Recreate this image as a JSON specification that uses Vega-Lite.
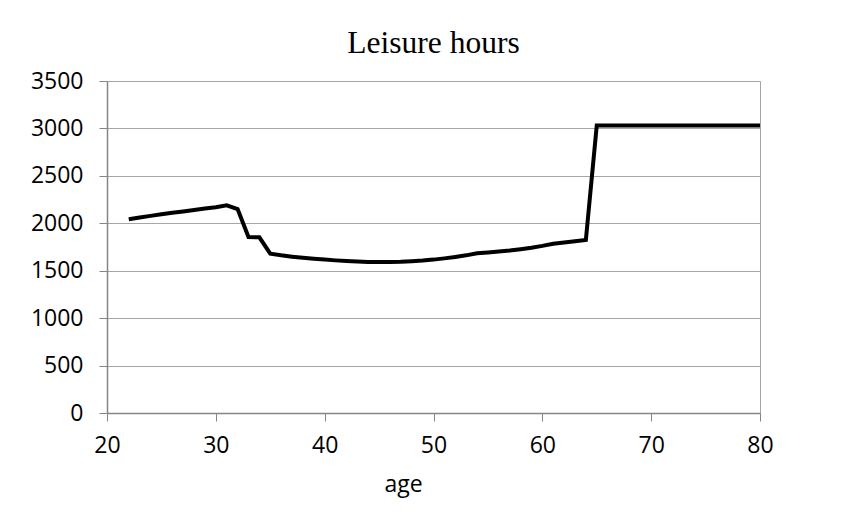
{
  "$schema": "https://vega.github.io/schema/vega-lite/v6.json",
  "autosize": {"type": "none"},
  "width": 653,
  "height": 332,
  "padding": {"left": 107, "top": 81, "right": 88, "bottom": 114},
  "background": "white",
  "title": {
    "text": "Leisure hours",
    "font": "Liberation Serif",
    "fontSize": 31.5,
    "fontWeight": "normal",
    "color": "black",
    "anchor": "middle",
    "frame": "group",
    "baseline": "alphabetic",
    "offset": -14
  },
  "config": {
    "view": {"stroke": "#a6a6a6", "strokeWidth": 1},
    "axis": {
      "labelFont": "Open Sans",
      "labelFontSize": 23,
      "labelColor": "black",
      "titleFont": "Open Sans",
      "titleFontSize": 23,
      "titleFontWeight": "normal",
      "titleColor": "black",
      "domainColor": "#868686",
      "domainWidth": 1.5,
      "tickColor": "#868686",
      "tickWidth": 1,
      "tickSize": 8,
      "gridColor": "#a6a6a6",
      "gridWidth": 1
    }
  },
  "data": {
    "values": [
      {"age": 22, "hours": 2042}, {"age": 23, "hours": 2060}, {"age": 24, "hours": 2078},
      {"age": 25, "hours": 2095}, {"age": 26, "hours": 2110}, {"age": 27, "hours": 2125},
      {"age": 28, "hours": 2140}, {"age": 29, "hours": 2155}, {"age": 30, "hours": 2170},
      {"age": 31, "hours": 2190}, {"age": 32, "hours": 2150}, {"age": 33, "hours": 1855},
      {"age": 34, "hours": 1852}, {"age": 35, "hours": 1680}, {"age": 36, "hours": 1662},
      {"age": 37, "hours": 1648}, {"age": 38, "hours": 1636}, {"age": 39, "hours": 1626},
      {"age": 40, "hours": 1617}, {"age": 41, "hours": 1609}, {"age": 42, "hours": 1602},
      {"age": 43, "hours": 1597}, {"age": 44, "hours": 1593}, {"age": 45, "hours": 1591},
      {"age": 46, "hours": 1591}, {"age": 47, "hours": 1594}, {"age": 48, "hours": 1600},
      {"age": 49, "hours": 1607}, {"age": 50, "hours": 1617}, {"age": 51, "hours": 1630},
      {"age": 52, "hours": 1645}, {"age": 53, "hours": 1662}, {"age": 54, "hours": 1685},
      {"age": 55, "hours": 1693}, {"age": 56, "hours": 1702}, {"age": 57, "hours": 1713},
      {"age": 58, "hours": 1727}, {"age": 59, "hours": 1743}, {"age": 60, "hours": 1762},
      {"age": 61, "hours": 1785}, {"age": 62, "hours": 1797}, {"age": 63, "hours": 1810},
      {"age": 64, "hours": 1824}, {"age": 65, "hours": 3030}, {"age": 66, "hours": 3030},
      {"age": 67, "hours": 3030}, {"age": 68, "hours": 3030}, {"age": 69, "hours": 3030},
      {"age": 70, "hours": 3030}, {"age": 71, "hours": 3030}, {"age": 72, "hours": 3030},
      {"age": 73, "hours": 3030}, {"age": 74, "hours": 3030}, {"age": 75, "hours": 3030},
      {"age": 76, "hours": 3030}, {"age": 77, "hours": 3030}, {"age": 78, "hours": 3030},
      {"age": 79, "hours": 3030}, {"age": 80, "hours": 3030}
    ]
  },
  "mark": {"type": "line", "color": "black", "strokeWidth": 4, "strokeJoin": "miter", "clip": false},
  "encoding": {
    "x": {
      "field": "age",
      "type": "quantitative",
      "scale": {"domain": [20, 80], "nice": false, "zero": false},
      "axis": {
        "title": "age",
        "format": "d",
        "values": [20, 30, 40, 50, 60, 70, 80],
        "grid": false,
        "labelPadding": 13,
        "labelFlush": false,
        "titleX": 296,
        "titleY": 78,
        "titleAnchor": null,
        "titleAlign": "center",
        "titleBaseline": "alphabetic"
      }
    },
    "y": {
      "field": "hours",
      "type": "quantitative",
      "scale": {"domain": [0, 3500], "nice": false},
      "axis": {
        "title": null,
        "format": "d",
        "values": [0, 500, 1000, 1500, 2000, 2500, 3000, 3500],
        "grid": true,
        "labelPadding": 16,
        "labelFlush": false
      }
    }
  }
}
